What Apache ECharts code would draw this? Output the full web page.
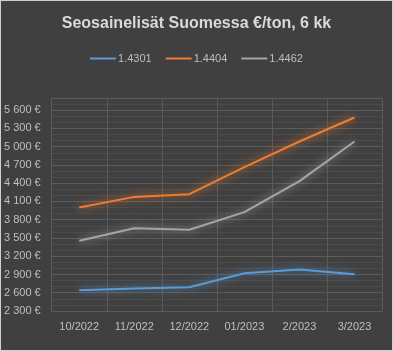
<!DOCTYPE html>
<html><head><meta charset="utf-8">
<script src="https://cdn.jsdelivr.net/npm/echarts@6/dist/echarts.min.js"></script>
<style>
html,body{margin:0;padding:0;background:#404040;}
#c{position:absolute;left:0;top:0;width:393px;height:351px;box-sizing:border-box;border:1px solid #d0d0d0;}
</style></head>
<body><div id="c"></div>
<script>
const categories = ['10/2022','11/2022','12/2022','01/2023','2/2023','3/2023'];
const s4301 = [2640, 2670, 2690, 2920, 2980, 2905];
const s4404 = [4000, 4175, 4220, 4665, 5085, 5480];
const s4462 = [3455, 3660, 3635, 3925, 4435, 5085];
const seriesNames = ['1.4301','1.4404','1.4462'];
const colors = ['#5b9bd5','#ed7d31','#a5a5a5'];
const yMin = 2300, yMax = 5800, yStep = 300;

const chart = echarts.init(document.getElementById('c'));
const mk = (name, data, color) => ({
  name, type: 'line', data, symbol: 'none', smooth: false,
  lineStyle: {color, width: 2, shadowColor: color, shadowBlur: 8},
  itemStyle: {color}
});
chart.setOption({
  backgroundColor: '#404040',
  animation: false,
  color: colors,
  title: {text: 'Seosainelisät Suomessa €/ton, 6 kk', left: 'center', top: 10,
    textStyle: {color: '#d9d9d9', fontFamily: 'Liberation Sans', fontWeight: 'bold', fontSize: 16}},
  legend: {top: 47, left: 'center', itemWidth: 26, itemHeight: 2, itemGap: 14,
    icon: 'rect',
    textStyle: {color: '#bfbfbf', fontFamily: 'Liberation Sans', fontSize: 11, padding: [0,0,0,-3]},
    data: seriesNames},
  grid: {left: 49.5, right: 10, top: 97, bottom: 39, containLabel: false},
  xAxis: {type: 'category', data: categories, boundaryGap: true,
    axisLine: {show: true, lineStyle: {color: '#5a5a5a'}},
    axisTick: {show: false},
    splitLine: {show: true, lineStyle: {color: '#5a5a5a', width: 1}},
    axisLabel: {color: '#bfbfbf', fontFamily: 'Liberation Sans', fontSize: 11, margin: 10}},
  yAxis: {type: 'value', min: yMin, max: yMax, interval: yStep,
    axisLine: {show: true, lineStyle: {color: '#5a5a5a'}},
    axisTick: {show: false},
    splitLine: {show: true, lineStyle: {color: '#5c5c5c', width: 1}},
    minorTick: {show: false, splitNumber: 3},
    minorSplitLine: {show: true, lineStyle: {color: '#4b4b4b', width: 1}},
    axisLabel: {color: '#bfbfbf', fontFamily: 'Liberation Sans', fontSize: 11, margin: 11,
      showMaxLabel: false,
      formatter: v => (v === yMax ? '' : String(v).replace(/\B(?=(\d{3})+(?!\d))/g, ' ') + ' €')}},
  series: [mk(seriesNames[0], s4301, colors[0]), mk(seriesNames[1], s4404, colors[1]), mk(seriesNames[2], s4462, colors[2])]
});
</script></body></html>
